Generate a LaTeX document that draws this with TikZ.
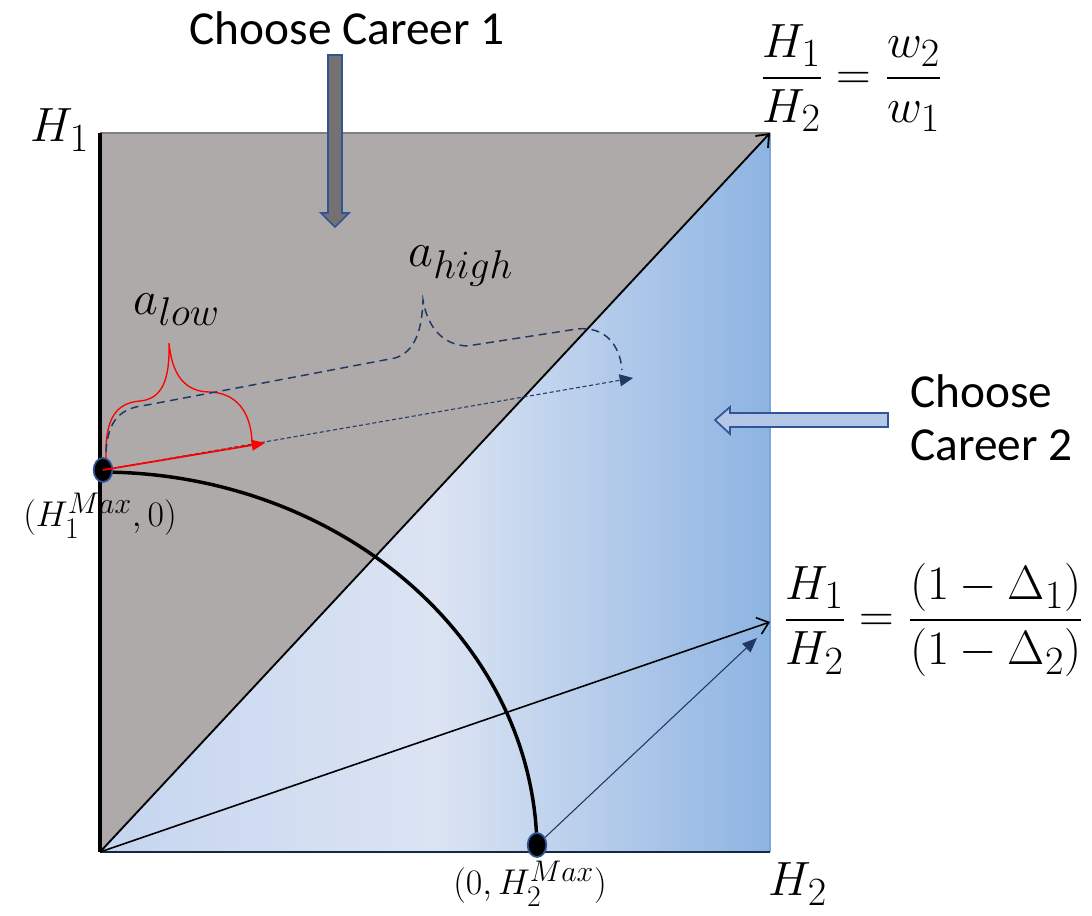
\documentclass[tikz,border=0pt]{standalone}
\usepackage{amsmath}
\usepackage{fontspec}
\newfontfamily\labelfont{Carlito}
\usetikzlibrary{positioning,arrows.meta,shapes.geometric}
\definecolor{areagray}{RGB}{174,170,169}
\definecolor{edgegray}{RGB}{127,127,127}
\definecolor{arrowgray}{RGB}{118,113,113}
\definecolor{navy}{RGB}{31,56,100}
\definecolor{ringblue}{RGB}{47,85,151}
\definecolor{blueleft}{RGB}{197,213,239}
\definecolor{bluemid}{RGB}{220,228,243}
\definecolor{blueright}{RGB}{141,180,226}
\definecolor{blueedge}{RGB}{126,166,219}
\definecolor{blockblue}{RGB}{180,199,231}
\tikzset{
  maths/.style={font=\fontsize{24.88}{30}\selectfont, inner sep=0pt, scale=1.45},
  pointlab/.style={font=\fontsize{24.88}{30}\selectfont, inner sep=0pt, scale=1.08},
  words/.style={font=\labelfont\fontsize{35.5}{40}\selectfont, align=left, inner sep=0pt},
  endpoint/.style={draw=ringblue, fill=black, line width=1.3pt, shape=ellipse,
    minimum width=14pt, minimum height=18pt, inner sep=0pt},
  bracelow/.style={red, line width=1pt},
  bracehigh/.style={navy, line width=1.1pt, dash pattern=on 6pt off 4pt},
}
\begin{document}
\begin{tikzpicture}[x=0.75pt,y=-0.75pt]
\useasboundingbox (0,0) rectangle (1092,916);
\coordinate (O) at (100,852);
\coordinate (topleft) at (100,133);
\coordinate (topright) at (770,133);
\coordinate (botright) at (770,852);
\coordinate (ratio) at (770,622);
% regions
\fill[areagray] (topleft) -- (topright) -- (O) -- cycle;
\shade[left color=blueleft, right color=blueright, middle color=bluemid]
  (O) -- (topright) -- (botright) -- cycle;
\draw[blueedge, line width=1pt] (topright) -- (botright);
\draw[edgegray, line width=2.2pt] (topleft) -- (topright);
% axes
\draw[black, line width=2.6pt] (O) -- (topleft);
\draw[navy!70!black, line width=1.1pt] (O) -- (botright);
% rays
\draw[line width=1.4pt, -{Straight Barb[length=8pt,width=13pt]}] (O) -- (topright);
\draw[line width=1.2pt, -{Straight Barb[length=8pt,width=13pt]}] (O) -- (ratio);
% frontier
\draw[line width=2.6pt] (100,472) arc[start angle=-90, end angle=0, x radius=437, y radius=380];
\draw node (h1max) at (103,470) [endpoint]{};
\draw node (h2max) at (537,845) [endpoint]{};
\coordinate (shift) at (757,638);
\draw[navy, line width=0.8pt, -{Triangle[length=11pt,width=9pt]}] (h2max) -- (shift);
% braces
\coordinate (lowend) at (265,443);
\coordinate (highend) at (633,378);
\draw[navy, line width=0.8pt, dash pattern=on 3pt off 2pt, -{Triangle[length=10pt,width=9pt]}]
  (h1max.center) -- (highend);
\draw[red, line width=1.3pt, -{Triangle[length=10pt,width=8pt]}] (h1max.center) -- (lowend);
\draw[bracelow] (106,458) .. controls (105,420) and (115,403) .. (140,401)
  .. controls (162,399) and (170,380) .. (169,343)
  .. controls (172,375) and (185,392) .. (210,392)
  .. controls (235,393) and (250,410) .. (252,440);
\draw[bracehigh] (106,452) .. controls (108,420) and (120,408) .. (147,405) -- (395,358)
  .. controls (415,352) and (422,330) .. (423,300)
  .. controls (428,330) and (445,345) .. (467,346) -- (577,329)
  .. controls (605,326) and (620,345) .. (622,370);
% block arrows
\draw[ringblue, fill=arrowgray, line width=1.3pt]
  (328,55) -- (342,55) -- (342,213) -- (349,213) -- (335,227) -- (321,213) -- (328,213) -- cycle;
\draw[ringblue, fill=blockblue, line width=1.3pt]
  (888,413) -- (730,413) -- (730,407) -- (715,420) -- (730,434) -- (730,427) -- (888,427) -- cycle;
% labels
\draw node (yaxis) at (60,130) [maths]{$H_1$};
\draw node (xaxis) at (798,884) [maths]{$H_2$};
\draw node (h1lab) at (100,516) [pointlab]{$(H_1^{Max},0)$};
\draw node (h2lab) at (530,884) [pointlab]{$(0,H_2^{Max})$};
\draw node (alow) at (177,310) [maths]{$a_{low}$};
\draw node (ahigh) at (461,266) [maths]{$a_{high}$};
\draw node (wage) at (760,78) [maths, anchor=west]{$\dfrac{H_1}{H_2}=\dfrac{w_2}{w_1}$};
\draw node (delta) at (783,620) [maths, anchor=west]{$\dfrac{H_1}{H_2}=\dfrac{(1-\Delta_1)}{(1-\Delta_2)}$};
\draw node (career1) at (347,28) [words]{Choose Career 1};
\draw node (career2) at (910,418) [words, anchor=west]{Choose\\Career 2};
\end{tikzpicture}
\end{document}
